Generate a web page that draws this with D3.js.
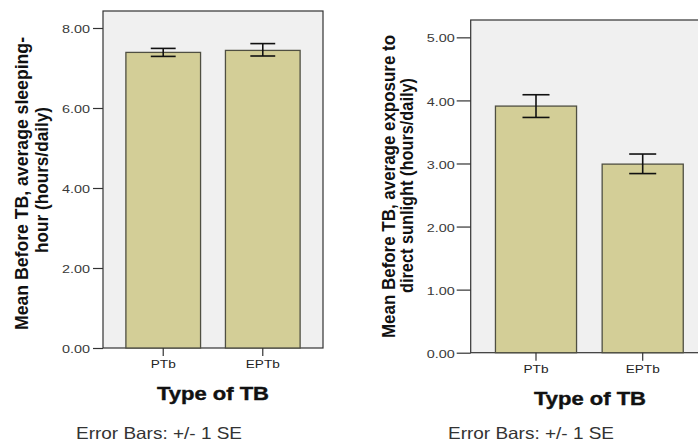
<!DOCTYPE html>
<html>
<head>
<meta charset="utf-8">
<script src="https://cdn.jsdelivr.net/npm/d3@7"></script>
<style>
  body { margin: 0; background: #fff; }
  svg text { font-family: "Liberation Sans", Arial, sans-serif; }
</style>
</head>
<body>
<div id="chart"></div>
<script>
// categories and means, with +/- 1 SE bounds
var categories = ["PTb", "EPTb"];

var sleepMeans = [7.39, 7.44];
var sleepLower = [7.29, 7.30];
var sleepUpper = [7.49, 7.61];
var sleepTicks = [0, 2, 4, 6, 8];

var sunMeans = [3.91, 2.99];
var sunLower = [3.73, 2.84];
var sunUpper = [4.09, 3.15];
var sunTicks = [0, 1, 2, 3, 4, 5];

var svg = d3.select("#chart")
            .append("svg")
            .attr("width", 698)
            .attr("height", 441);

/*
Draws one SPSS style bar panel: grey plot frame, tan bars, error bars,
axes and the titles around it.
*/
function drawPanel(p) {

  var y = d3.scaleLinear()
            .domain([0, p.yMax])
            .range([p.bottom, p.top]);

  var x = d3.scaleBand()
            .domain(categories)
            .range([p.left, p.right])
            .paddingInner(p.padIn)
            .paddingOuter(p.padOut);

  var g = svg.append("g");

  // plot background and frame
  g.append("rect")
   .attr("x", p.left)
   .attr("y", p.top)
   .attr("width", p.right - p.left)
   .attr("height", p.bottom - p.top)
   .style("fill", "#f0f0f0")
   .style("stroke", "#333")
   .style("stroke-width", 1.2);

  var rows = categories.map(function(c, i) {
    return {cat: c, mean: p.means[i], lo: p.lower[i], hi: p.upper[i]};
  });

  // bars
  g.selectAll(".bar")
   .data(rows)
   .enter()
   .append("rect")
   .attr("class", "bar")
   .attr("x", function(d) { return x(d.cat); })
   .attr("y", function(d) { return y(d.mean); })
   .attr("width", x.bandwidth())
   .attr("height", function(d) { return y(0) - y(d.mean); })
   .style("fill", "#d3ce97")
   .style("stroke", "#4f4f42")
   .style("stroke-width", 1.3);

  // error bars
  var capHalf = x.bandwidth() / 6;
  var err = g.selectAll(".err")
             .data(rows)
             .enter()
             .append("g")
             .attr("class", "err")
             .style("stroke", "#111")
             .style("stroke-width", 1.6);

  err.append("line")
     .attr("x1", function(d) { return x(d.cat) + x.bandwidth() / 2; })
     .attr("x2", function(d) { return x(d.cat) + x.bandwidth() / 2; })
     .attr("y1", function(d) { return y(d.lo); })
     .attr("y2", function(d) { return y(d.hi); });

  ["lo", "hi"].forEach(function(k) {
    err.append("line")
       .attr("x1", function(d) { return x(d.cat) + x.bandwidth() / 2 - capHalf; })
       .attr("x2", function(d) { return x(d.cat) + x.bandwidth() / 2 + capHalf; })
       .attr("y1", function(d) { return y(d[k]); })
       .attr("y2", function(d) { return y(d[k]); });
  });

  // y axis
  var yAxis = g.append("g")
               .attr("transform", "translate(" + p.left + ",0)")
               .call(d3.axisLeft(y)
                       .tickValues(p.ticks)
                       .tickFormat(d3.format(".2f"))
                       .tickSize(p.yTick)
                       .tickPadding(p.yPad));
  yAxis.select(".domain").remove();
  yAxis.selectAll("line").style("stroke", "#333").style("stroke-width", 1.2);
  yAxis.selectAll("text")
       .attr("dy", "0.4em")
       .attr("textLength", 28)
       .attr("lengthAdjust", "spacingAndGlyphs")
       .style("font-family", "Liberation Sans, Arial, sans-serif")
       .style("font-size", "11.5px")
       .style("fill", "#3a3a3a");

  // x axis
  var xAxis = g.append("g")
               .attr("transform", "translate(0," + p.bottom + ")")
               .call(d3.axisBottom(x).tickSize(8));
  xAxis.select(".domain").remove();
  xAxis.selectAll("line").style("stroke", "#333").style("stroke-width", 1.2);
  xAxis.selectAll("text")
       .attr("y", 20)
       .attr("dy", 0)
       .attr("textLength", function(d) { return d === "PTb" ? 25 : 34; })
       .attr("lengthAdjust", "spacingAndGlyphs")
       .style("font-family", "Liberation Sans, Arial, sans-serif")
       .style("font-size", "11px")
       .style("fill", "#222");

  // x title
  g.append("text")
   .attr("x", p.xTitleX)
   .attr("y", p.bottom + 52)
   .attr("text-anchor", "middle")
   .attr("textLength", 112)
   .attr("lengthAdjust", "spacingAndGlyphs")
   .style("font-size", "18.5px")
   .style("font-weight", "bold")
   .style("fill", "#111")
   .style("stroke", "#111")
   .style("stroke-width", 0.4)
   .text("Type of TB");

  // footnote
  g.append("text")
   .attr("x", p.noteX)
   .attr("y", 439)
   .attr("textLength", 166)
   .attr("lengthAdjust", "spacingAndGlyphs")
   .style("font-size", "16.5px")
   .style("fill", "#333")
   .text("Error Bars:  +/- 1 SE");

  // rotated y title, two lines
  p.yTitle.forEach(function(t) {
    g.append("text")
     .attr("transform", "translate(" + t.x + "," + t.cy + ") rotate(-90)")
     .attr("text-anchor", "middle")
     .attr("textLength", t.len)
     .attr("lengthAdjust", "spacingAndGlyphs")
     .style("font-size", "17.5px")
     .style("font-weight", "bold")
     .style("fill", "#111")
     .text(t.text);
  });
}

drawPanel({
  means: sleepMeans, lower: sleepLower, upper: sleepUpper, ticks: sleepTicks,
  yMax: 8.425, top: 11, bottom: 348, left: 103, right: 323,
  padIn: 0.25, padOut: 0.23, yTick: 10, yPad: 3,
  xTitleX: 213, noteX: 76,
  yTitle: [
    {text: "Mean Before TB, average sleeping-", x: 28, cy: 183.5, len: 293},
    {text: "hour (hours/daily)", x: 48, cy: 180, len: 146}
  ]
});

drawPanel({
  means: sunMeans, lower: sunLower, upper: sunUpper, ticks: sunTicks,
  yMax: 5.275, top: 20, bottom: 352.7, left: 470.7, right: 708,
  padIn: 0.24, padOut: 0.232, yTick: 14, yPad: 2,
  xTitleX: 590, noteX: 448,
  yTitle: [
    {text: "Mean Before TB, average exposure to", x: 395, cy: 186.5, len: 303},
    {text: "direct sunlight (hours/daily)", x: 413, cy: 185.5, len: 215}
  ]
});
</script>
</body>
</html>
